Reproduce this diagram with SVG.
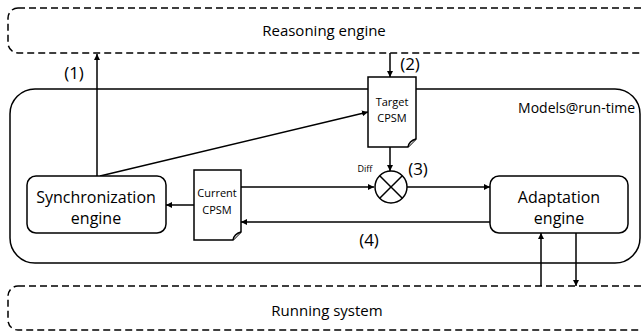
<svg xmlns="http://www.w3.org/2000/svg" width="642" height="331" viewBox="0 0 642 331">
  <defs>
    <marker id="arrow" viewBox="0 0 8 8" refX="8" refY="4" markerWidth="6" markerHeight="6" markerUnits="userSpaceOnUse" orient="auto">
      <path d="M0,0 L8,4 L0,8 z" fill="#000"/>
    </marker>
    <style>
      text { font-family: "Open Sans", "Noto Sans", sans-serif; fill: #000; }
      .lbl { font-size: 15px; text-anchor: middle; }
      .eng { font-size: 16px; text-anchor: middle; }
      .num { font-size: 17px; text-anchor: middle; }
      .small { font-size: 11px; text-anchor: middle; }
      .dashed { fill: none; stroke: #000; stroke-width: 1.5; stroke-dasharray: 7 4; }
      .box { fill: #fff; stroke: #000; stroke-width: 1.5; }
      .doc { fill: #fff; stroke: #000; stroke-width: 1.5; stroke-linejoin: miter; }
      .conn { fill: none; stroke: #000; stroke-width: 1.5; marker-end: url(#arrow); }
    </style>
  </defs>
  <rect width="642" height="331" fill="#fff"/>

  <!-- external layers -->
  <g id="reasoning-engine">
    <rect class="dashed" x="8" y="8" width="660" height="45" rx="10"/>
    <text class="lbl" x="324" y="36">Reasoning engine</text>
  </g>
  <g id="running-system">
    <rect class="dashed" x="8" y="286" width="660" height="44" rx="10"/>
    <text class="lbl" x="327" y="316">Running system</text>
  </g>

  <!-- models@run-time container -->
  <g id="models-at-runtime">
    <rect class="box" x="10" y="89" width="630" height="174" rx="25"/>
    <text x="635" y="113" font-size="14" text-anchor="end">Models@run-time</text>
  </g>

  <g id="connectors">
    <line class="conn" x1="97" y1="176" x2="97" y2="54"/>
    <line class="conn" x1="390" y1="53" x2="390" y2="77"/>
    <line class="conn" x1="100" y1="176" x2="368" y2="112"/>
    <line class="conn" x1="390" y1="147" x2="390" y2="171"/>
    <line class="conn" x1="241" y1="187" x2="374" y2="187"/>
    <line class="conn" x1="407" y1="187" x2="490" y2="187"/>
    <line class="conn" x1="490" y1="222" x2="241" y2="222"/>
    <line class="conn" x1="194" y1="205" x2="166" y2="205"/>
    <line class="conn" x1="541" y1="286" x2="541" y2="233"/>
    <line class="conn" x1="576" y1="233" x2="576" y2="286"/>
  </g>

  <!-- connector labels -->
  <g id="labels">
    <text class="num" x="74" y="79">(1)</text>
    <text class="num" x="410" y="70">(2)</text>
    <text class="num" x="418" y="175">(3)</text>
    <text class="num" x="369" y="246">(4)</text>
    <text x="365" y="172" font-size="9" text-anchor="middle">Diff</text>
  </g>

  <g id="synchronization-engine">
    <rect class="box" x="27" y="176" width="139" height="57" rx="9"/>
    <text class="eng" x="96" y="203">Synchronization</text>
    <text class="eng" x="96" y="224">engine</text>
  </g>

  <g id="adaptation-engine">
    <rect class="box" x="490" y="176" width="138" height="57" rx="9"/>
    <text class="eng" x="559" y="203">Adaptation</text>
    <text class="eng" x="559" y="224">engine</text>
  </g>

  <g id="target-cpsm">
    <path class="doc" d="M368,77 H416 V139 L408,147 H368 Z"/>
    <path class="doc" d="M408,147 Q409,141 416,139" fill="none"/>
    <text class="small" x="392" y="106">Target</text>
    <text class="small" x="392" y="122">CPSM</text>
  </g>

  <g id="current-cpsm">
    <path class="doc" d="M194,170 H241 V232 L233,240 H194 Z"/>
    <path class="doc" d="M233,240 Q234,234 241,232" fill="none"/>
    <text class="small" x="217" y="197">Current</text>
    <text class="small" x="217" y="214">CPSM</text>
  </g>

  <g id="diff">
    <circle cx="391" cy="187" r="16" fill="#fff" stroke="#000" stroke-width="1.5"/>
    <line x1="379.7" y1="175.7" x2="402.3" y2="198.3" stroke="#000" stroke-width="1.5"/>
    <line x1="402.3" y1="175.7" x2="379.7" y2="198.3" stroke="#000" stroke-width="1.5"/>
  </g>
</svg>
